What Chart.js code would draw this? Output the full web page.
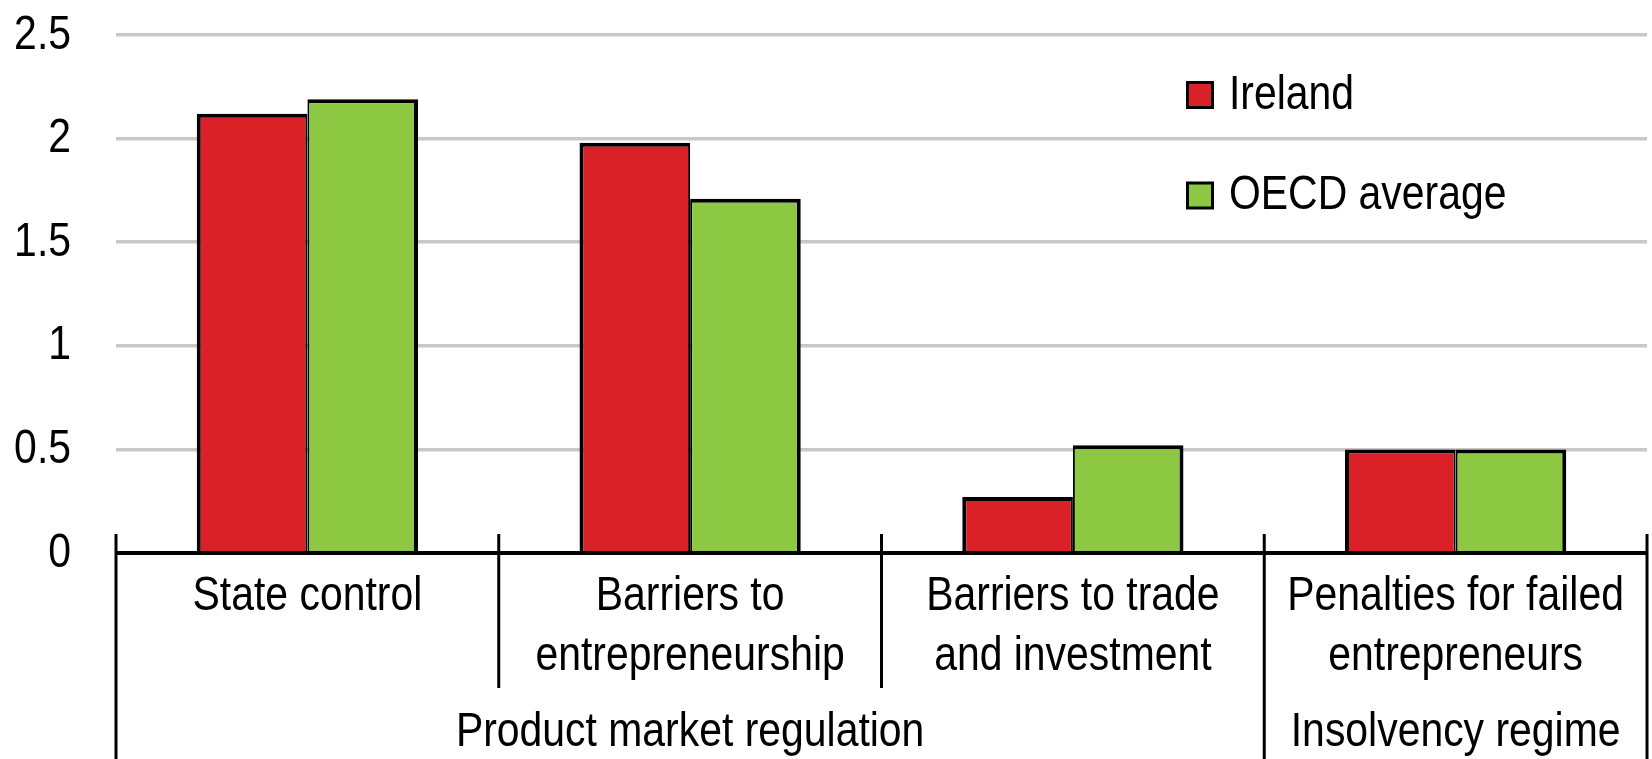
<!DOCTYPE html>
<html><head><meta charset="utf-8">
<style>html,body{margin:0;padding:0;background:#fff;}#wrap{width:1652px;height:759px;position:relative;}</style>
<script src="https://cdn.jsdelivr.net/npm/chart.js@4.4.1/dist/chart.umd.min.js"></script>
</head><body><div id="wrap"><canvas id="c" width="1652" height="759"></canvas></div>
<script>
const categories = [['State control'], ['Barriers to', 'entrepreneurship'], ['Barriers to trade', 'and investment'], ['Penalties for failed', 'entrepreneurs']];
const groupLabels = ['Product market regulation', 'Insolvency regime'];
const groupStart = [0, 3];
const groupEnd = [2, 3];
const seriesNames = ['Ireland', 'OECD average'];
const irelandValues = [2.12, 1.98, 0.27, 0.50];
const oecdValues = [2.19, 1.71, 0.52, 0.50];
const yMin = 0, yMax = 2.5, yStep = 0.5;

const FAMILY = "'Liberation Sans', Arial, sans-serif";
const FSIZE = 49;
const SX = 0.835; // horizontal condensing of the original narrow type
const RED = '#DA2128', GREEN = '#8CC841';

function txt(ctx, s, x, y, align) {
  ctx.save();
  ctx.translate(x, y);
  ctx.scale(SX, 1);
  ctx.textAlign = align;
  ctx.textBaseline = 'middle';
  ctx.fillText(s, 0, 0);
  ctx.restore();
}

const deco = {
  id: 'deco',
  afterDatasetsDraw(chart) {
    const ctx = chart.ctx, a = chart.chartArea, xs = chart.scales.x, ys = chart.scales.y;
    const H = chart.height;
    ctx.save();
    // axis line
    ctx.strokeStyle = '#000'; ctx.lineWidth = 4;
    ctx.beginPath(); ctx.moveTo(a.left, a.bottom); ctx.lineTo(a.right, a.bottom); ctx.stroke();
    // separators
    const n = categories.length;
    const bounds = [a.left];
    for (let i = 0; i < n - 1; i++) bounds.push((xs.getPixelForValue(i) + xs.getPixelForValue(i + 1)) / 2);
    bounds.push(a.right);
    const groupBounds = new Set([0, n]);
    groupStart.forEach(s => groupBounds.add(s));
    ctx.lineWidth = 3;
    bounds.forEach((bx, b) => {
      ctx.beginPath();
      ctx.moveTo(bx, a.bottom - 19);
      ctx.lineTo(bx, groupBounds.has(b) ? H : a.bottom + 135);
      ctx.stroke();
    });
    ctx.fillStyle = '#000';
    ctx.font = FSIZE + 'px ' + FAMILY;
    // y tick labels
    ys.ticks.forEach((t, i) => {
      txt(ctx, String(t.value), a.left - 45, ys.getPixelForTick(i), 'right');
    });
    // category labels
    categories.forEach((lines, i) => {
      const cx = xs.getPixelForValue(i);
      lines.forEach((l, j) => txt(ctx, l, cx, a.bottom + 43.5 + j * 59.7, 'center'));
    });
    // group labels
    groupLabels.forEach((g, i) => {
      const cx = (bounds[groupStart[i]] + bounds[groupEnd[i] + 1]) / 2;
      txt(ctx, g, cx, a.bottom + 179, 'center');
    });
    // legend
    const lx = a.right - 461, ly = a.top + 60;
    chart.data.datasets.forEach((ds, i) => {
      const y = ly + i * 100.5;
      ctx.fillStyle = '#000';
      ctx.fillRect(lx, y - 14, 28, 28);
      ctx.fillStyle = ds.backgroundColor;
      ctx.fillRect(lx + 3, y - 11, 22, 22);
      ctx.fillStyle = '#000';
      txt(ctx, ds.label, lx + 43, y, 'left');
    });
    ctx.restore();
  }
};

new Chart(document.getElementById('c'), {
  type: 'bar',
  data: {
    labels: categories,
    datasets: [
      { label: seriesNames[0], data: irelandValues, backgroundColor: RED, borderColor: '#000',
        borderWidth: { top: 4, left: 4, right: 2, bottom: 0 }, borderSkipped: false },
      { label: seriesNames[1], data: oecdValues, backgroundColor: GREEN, borderColor: '#000',
        borderWidth: { top: 4, left: 2, right: 4, bottom: 0 }, borderSkipped: false }
    ]
  },
  options: {
    responsive: false,
    devicePixelRatio: 1,
    animation: false,
    events: [],
    categoryPercentage: 0.578,
    barPercentage: 1,
    layout: { padding: { top: 35, right: 5, left: 0, bottom: 0 } },
    plugins: { legend: { display: false }, tooltip: { enabled: false } },
    scales: {
      x: {
        afterFit: s => { s.height = 206; },
        grid: { display: false },
        border: { display: false },
        ticks: { display: false }
      },
      y: {
        min: yMin, max: yMax,
        afterFit: s => { s.width = 116; },
        grid: { color: '#c8c8c8', lineWidth: 3.5, drawTicks: false },
        border: { display: false },
        ticks: { display: false, stepSize: yStep }
      }
    }
  },
  plugins: [deco]
});
</script></body></html>
